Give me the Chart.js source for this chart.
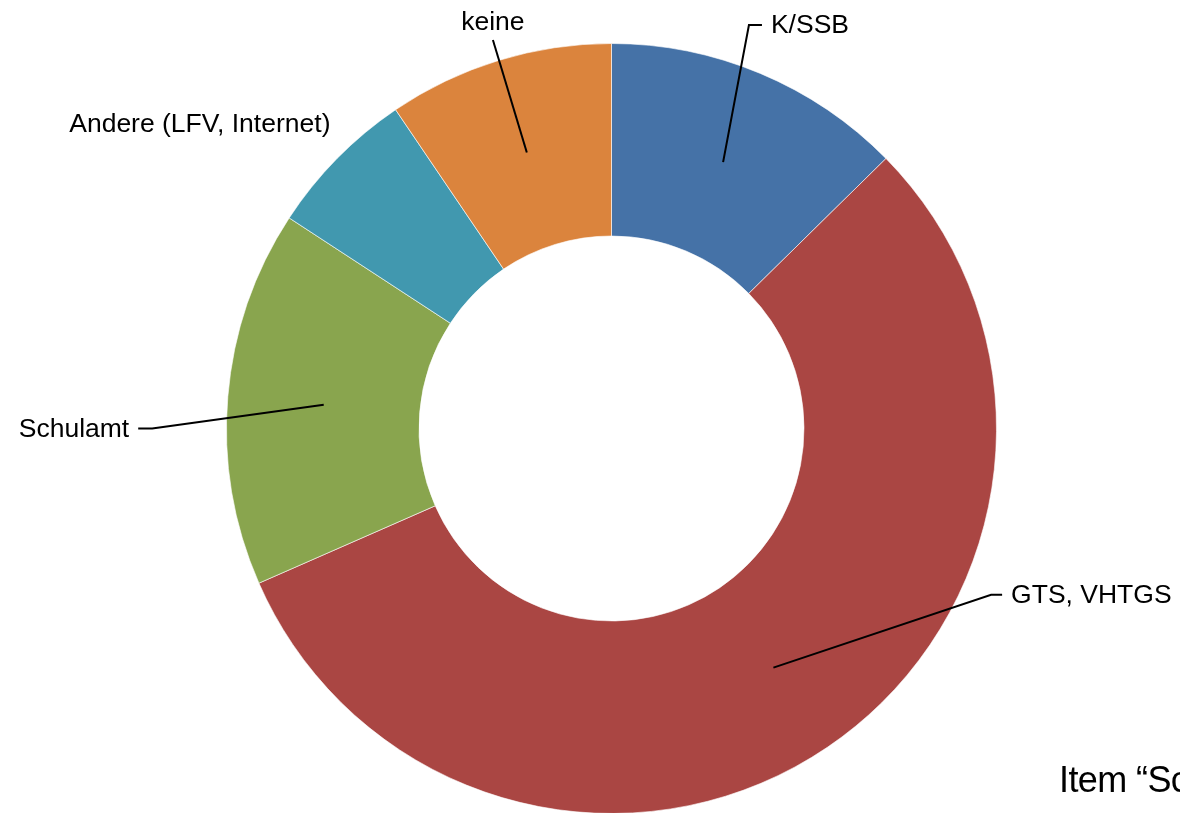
<!DOCTYPE html>
<html>
<head>
<meta charset="utf-8">
<script src="https://cdn.jsdelivr.net/npm/chart.js@4/dist/chart.umd.min.js"></script>
<style>
  html, body { margin: 0; padding: 0; background: #ffffff; overflow: hidden; width: 1180px; height: 813px; }
  #wrap { position: absolute; left: 0; top: 0; width: 1180px; height: 860px; }
  #caption { position: absolute; left: 1059px; top: 759px; font-family: "Liberation Sans", Arial, sans-serif; font-size: 36px; letter-spacing: -0.6px; color: #000; white-space: nowrap; }
</style>
</head>
<body>
<div id="wrap"><canvas id="c"></canvas></div>
<div id="caption">Item “Schulamt”</div>
<script>
// ---- data ----
const categories = ["K/SSB", "GTS, VHTGS", "Schulamt", "Andere (LFV, Internet)", "keine"];
const values = [12, 53, 15, 6, 9];
const colors = ["#4572A7", "#AA4643", "#89A54E", "#4198AF", "#DB843D"];

// ---- label layout (positions relative to centre, in outer-radius units) ----
const labelLayout = [
  { elbow: [0.357, -1.048], tick: 13, align: "left", line: true },
  { elbow: [0.986, 0.432], tick: 11, align: "left", line: true },
  { elbow: [-1.193, 0.000], tick: -14, align: "right", line: true },
  { elbow: [-0.730, -0.793], tick: 0, align: "right", line: false },
  { elbow: [-0.308, -1.009], tick: 0, align: "top", line: true }
];

const leaderPlugin = {
  id: "leaders",
  afterDatasetsDraw(chart) {
    const ctx = chart.ctx;
    const meta = chart.getDatasetMeta(0);
    ctx.save();
    ctx.font = '26.5px "Liberation Sans", Arial, sans-serif';
    ctx.fillStyle = "#000";
    ctx.strokeStyle = "#000";
    ctx.lineWidth = 2;
    meta.data.forEach((arc, i) => {
      const p = arc.getProps(["x", "y", "startAngle", "endAngle", "innerRadius", "outerRadius"], true);
      const mid = (p.startAngle + p.endAngle) / 2;
      const rMid = (p.innerRadius + p.outerRadius) / 2;
      const ix = p.x + Math.cos(mid) * rMid;
      const iy = p.y + Math.sin(mid) * rMid;
      const L = labelLayout[i];
      const ex = p.x + L.elbow[0] * p.outerRadius;
      const ey = p.y + L.elbow[1] * p.outerRadius;
      if (L.line) {
        ctx.beginPath();
        ctx.moveTo(ix, iy);
        ctx.lineTo(ex, ey);
        if (L.tick) ctx.lineTo(ex + L.tick, ey);
        ctx.stroke();
      }
      const txt = categories[i];
      const gap = L.line ? 9 : 0;
      ctx.textBaseline = "middle";
      if (L.align === "top") {
        ctx.textAlign = "center";
        ctx.fillText(txt, ex, ey - 17);
      } else if (L.align === "left") {
        ctx.textAlign = "left";
        ctx.fillText(txt, ex + L.tick + gap, ey + 1);
      } else {
        ctx.textAlign = "right";
        ctx.fillText(txt, ex + L.tick - gap, ey + 1);
      }
    });
    ctx.restore();
  }
};

new Chart(document.getElementById("c"), {
  type: "doughnut",
  data: {
    labels: categories,
    datasets: [{
      data: values,
      backgroundColor: colors,
      borderColor: "rgba(255,255,255,0.6)",
      borderWidth: 1
    }]
  },
  options: {
    responsive: true,
    maintainAspectRatio: false,
    animation: false,
    cutout: "50%",
    layout: { padding: { left: 226, right: 183, top: 43, bottom: 46 } },
    plugins: { legend: { display: false }, tooltip: { enabled: false } }
  },
  plugins: [leaderPlugin]
});
</script>
</body>
</html>
